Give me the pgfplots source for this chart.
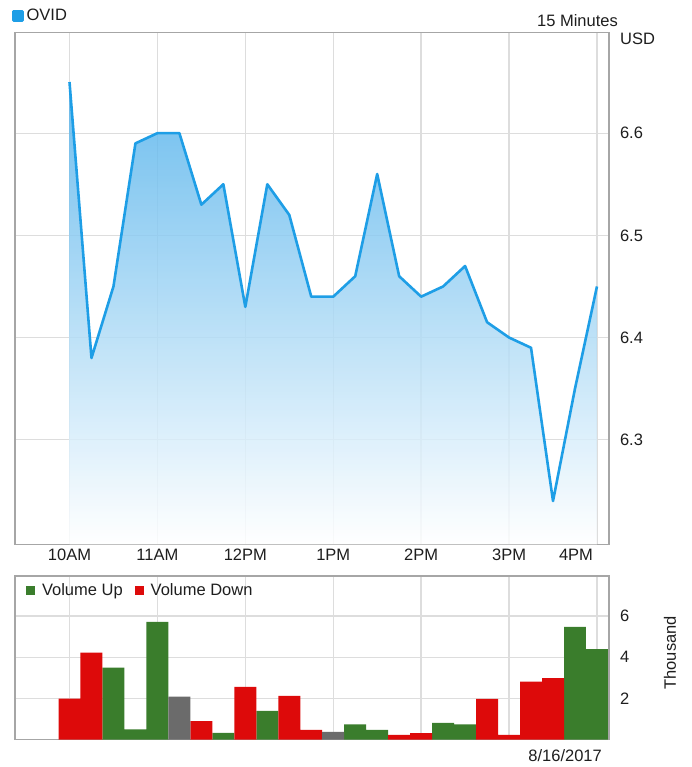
\documentclass[border=0pt]{standalone}
\usepackage{fontspec}
\setmainfont{Liberation Sans}
\usepackage{pgfplots}
\usepackage{pgfplotstable}
\pgfplotsset{compat=1.18}
\definecolor{linec}{RGB}{30,158,230}
\definecolor{filltop}{RGB}{84,178,235}
\definecolor{gridc}{RGB}{221,221,221}
\definecolor{framec}{RGB}{166,166,166}
\definecolor{upc}{RGB}{58,125,44}
\definecolor{downc}{RGB}{221,10,10}
\definecolor{flatc}{RGB}{107,107,107}
\definecolor{txt}{RGB}{30,30,30}

\pgfplotstableread{
t p
0 6.65
0.25 6.38
0.5 6.45
0.75 6.59
1 6.60
1.25 6.60
1.5 6.53
1.75 6.55
2 6.43
2.25 6.55
2.5 6.52
2.75 6.44
3 6.44
3.25 6.46
3.5 6.56
3.75 6.46
4 6.44
4.25 6.45
4.5 6.47
4.75 6.415
5 6.40
5.25 6.39
5.5 6.24
5.75 6.35
6 6.45
}\price

% area under the price line, closed along the axis minimum
\pgfplotstableread{
t p
0 6.65
0.25 6.38
0.5 6.45
0.75 6.59
1 6.60
1.25 6.60
1.5 6.53
1.75 6.55
2 6.43
2.25 6.55
2.5 6.52
2.75 6.44
3 6.44
3.25 6.46
3.5 6.56
3.75 6.46
4 6.44
4.25 6.45
4.5 6.47
4.75 6.415
5 6.40
5.25 6.39
5.5 6.24
5.75 6.35
6 6.45
6 6.1975
0 6.1975
}\pricearea

\pgfplotstableread{
t v
0.5 3.49
0.75 0.49
1.0 5.72
1.75 0.32
2.25 1.39
3.25 0.73
3.5 0.47
4.25 0.81
4.5 0.73
5.75 5.48
6.0 4.39
}\volup

\pgfplotstableread{
t v
0 1.99
0.25 4.22
1.5 0.89
2.0 2.56
2.5 2.12
2.75 0.47
3.75 0.23
4.0 0.31
4.75 1.98
5.0 0.23
5.25 2.81
5.5 2.98
}\voldown

\pgfplotstableread{
t v
1.25 2.08
3.0 0.37
}\volflat

\begin{document}
\begin{tikzpicture}[font=\fontsize{16.5}{19}\selectfont, text=txt]
\path[use as bounding box] (0,0) rectangle (692pt,767pt);
\pgfplotsset{
  common/.style={
    scale only axis, width=594pt,
    xmin=-0.62, xmax=6.137,
    xtick={0,1,2,3,4,5,6},
    grid=major,
    major grid style={gridc, line width=1.3pt},
    axis line style={framec, line width=1.5pt},
    tick style={draw=none},
    yticklabel pos=right,
    /pgf/number format/assume math mode=true,
    yticklabel style={xshift=7.5pt},
    legend cell align=left,
  }
}
\begin{axis}[common, name=top, at={(15pt,222.5pt)}, anchor=south west,
  height=512pt,
  ymin=6.1975, ymax=6.6985,
  ytick={6.3,6.4,6.5,6.6},
  yticklabel style={/pgf/number format/.cd, fixed, precision=1, fixed zerofill},
  xticklabels={10AM,11AM,12PM,1PM,2PM,3PM,{\makebox[0pt][r]{4PM\kern4pt}}},
  xticklabel style={yshift=-1pt},
  legend style={at={(0,1)}, anchor=south west, xshift=-3pt, yshift=8pt,
    draw=none, fill=none, inner sep=0pt, outer sep=0pt,
    font=\fontsize{16.5}{19}\selectfont,
    /tikz/every odd column/.append style={column sep=1pt}},
]
\addplot[top color=filltop, bottom color=white, fill opacity=0.85, draw=none, forget plot]
  table[x=t, y=p] {\pricearea};
\addplot[linec, line width=2.6pt, line join=round,
  legend image code/.code={\fill[linec] (0pt,-4.5pt) rectangle (9pt,4.5pt);}]
  table[x=t, y=p] {\price};
\addlegendentry{OVID}
\end{axis}

\begin{axis}[common, name=bot, at={(15pt,27.5pt)}, anchor=south west,
  height=163.5pt,
  ymin=0, ymax=7.95,
  ytick={2,4,6},
  xticklabels={},
  legend columns=-1,
  legend style={at={(0,1)}, anchor=north west, xshift=11pt, yshift=-6pt,
    draw=none, fill=none, inner sep=0pt, outer sep=0pt,
    font=\fontsize{16.5}{19}\selectfont,
    /tikz/every odd column/.append style={column sep=5pt},
    /tikz/every even column/.append style={column sep=10pt}},
]
\addplot[ybar, bar width=0.25, bar shift=0pt, fill=upc, draw=none,
  legend image code/.code={\fill[upc] (0pt,-4.5pt) rectangle (9pt,4.5pt);}]
  table[x=t, y=v] {\volup};
\addlegendentry{Volume Up}
\addplot[ybar, bar width=0.25, bar shift=0pt, fill=downc, draw=none,
  legend image code/.code={\fill[downc] (0pt,-4.5pt) rectangle (9pt,4.5pt);}]
  table[x=t, y=v] {\voldown};
\addlegendentry{Volume Down}
\addplot[ybar, bar width=0.25, bar shift=0pt, fill=flatc, draw=none, forget plot]
  table[x=t, y=v] {\volflat};
\end{axis}

\node[anchor=east, inner sep=0pt] at ([xshift=9pt, yshift=12pt]top.north east) {15 Minutes};
\node[anchor=west, inner sep=0pt] at ([xshift=11pt, yshift=-6pt]top.north east) {USD};
\node[rotate=90, inner sep=0pt] at ([xshift=61pt, yshift=5pt]bot.east) {Thousand};
\node[anchor=east, inner sep=0pt] at ([xshift=-7pt, yshift=-16.5pt]bot.south east) {8/16/2017};
\end{tikzpicture}
\end{document}
